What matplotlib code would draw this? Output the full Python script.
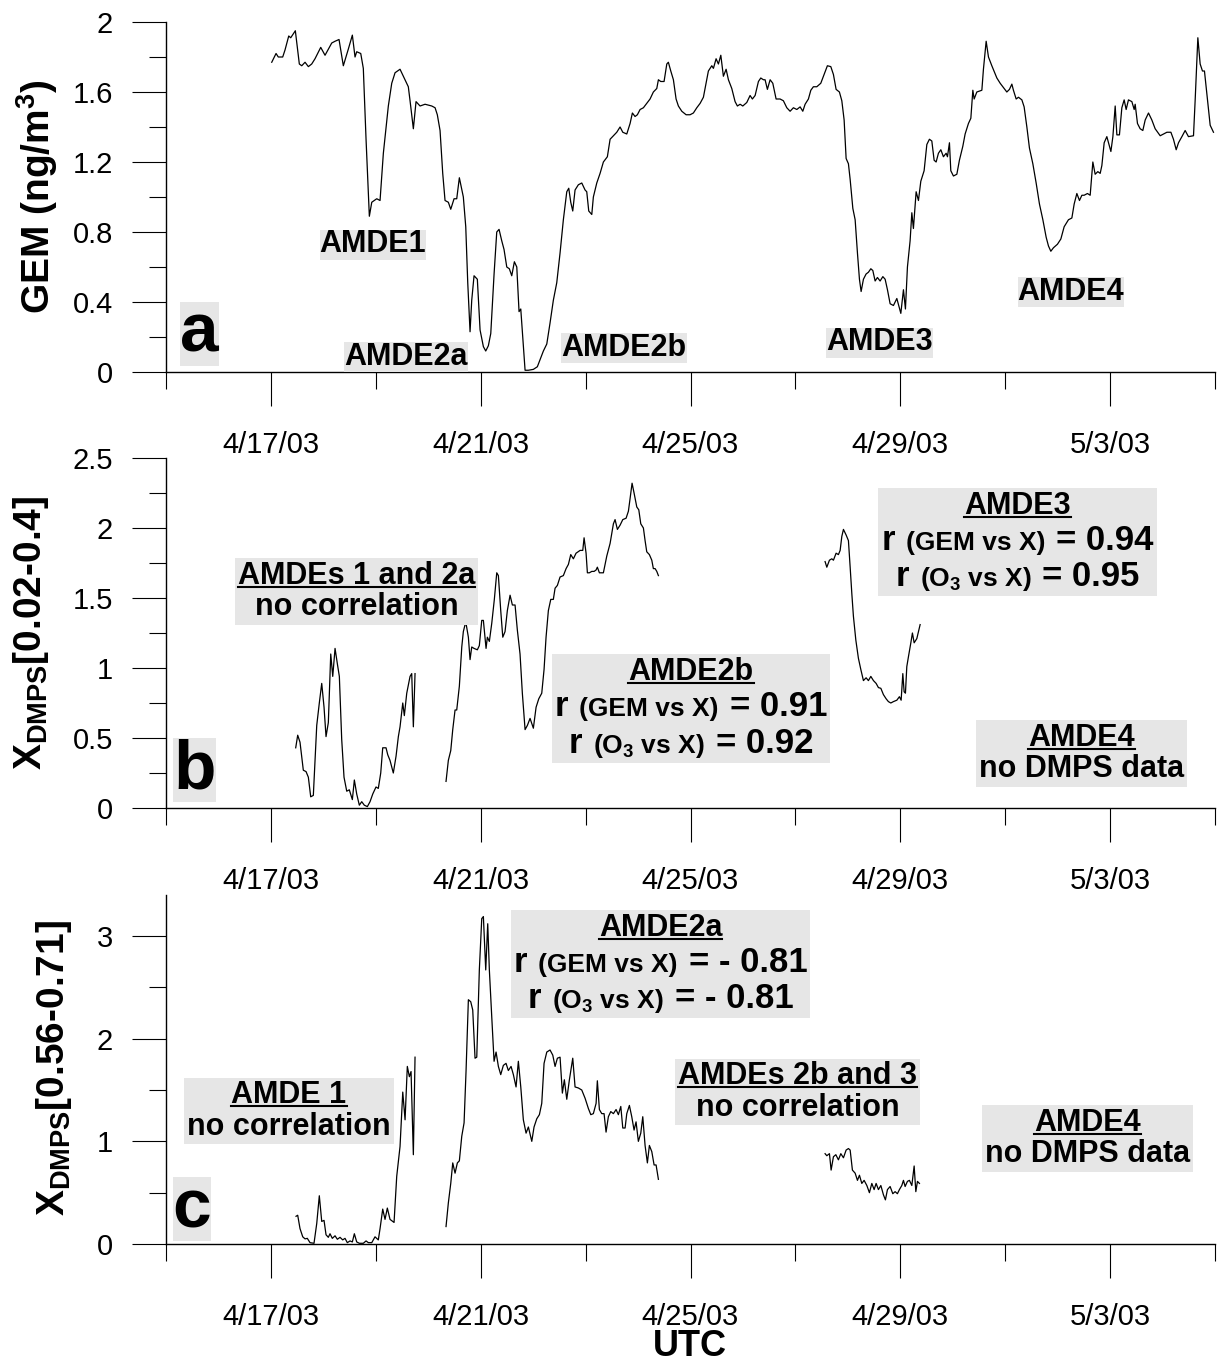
#!/usr/bin/env python3
"""
GEM and DMPS-derived X time series, April-May 2003, three stacked panels
with the AMDE (atmospheric mercury depletion event) annotations.
"""

import numpy as np
import matplotlib
matplotlib.use("Agg")
import matplotlib.pyplot as plt
import matplotlib.dates as mdates
from matplotlib.ticker import FixedLocator, MultipleLocator, FuncFormatter
from matplotlib.offsetbox import TextArea, HPacker, VPacker, AnnotationBbox
from matplotlib.font_manager import FontProperties
from matplotlib.lines import Line2D

plt.rcParams['font.family'] = ['Liberation Sans', 'DejaVu Sans']
plt.rcParams['mathtext.fontset'] = 'custom'
plt.rcParams['mathtext.rm'] = 'Liberation Sans'
plt.rcParams['mathtext.bf'] = 'Liberation Sans:bold'
plt.rcParams['mathtext.it'] = 'Liberation Sans:italic'


# ── Data (times are days after 2003-04-15 00:00 UTC) ─────────────────────────
START = "2003-04-15T00:00"

gem_days = [
    2.016, 2.098, 2.141, 2.225, 2.269, 2.340, 2.378, 2.466, 2.542, 2.588, 2.651, 2.714,
    2.778, 2.841, 2.950, 3.032, 3.160, 3.223, 3.299, 3.381, 3.476, 3.553, 3.604, 3.636,
    3.713, 3.762, 3.814, 3.877, 3.923, 4.018, 4.081, 4.144, 4.239, 4.304, 4.367, 4.462,
    4.525, 4.620, 4.653, 4.716, 4.767, 4.844, 4.939, 5.067, 5.130, 5.173, 5.225, 5.276,
    5.320, 5.383, 5.429, 5.492, 5.543, 5.593, 5.669, 5.715, 5.753, 5.797, 5.829, 5.873,
    5.936, 5.988, 6.051, 6.096, 6.146, 6.192, 6.255, 6.306, 6.350, 6.401, 6.445, 6.497,
    6.546, 6.592, 6.642, 6.688, 6.731, 6.764, 6.846, 6.909, 7.004, 7.080, 7.132, 7.195,
    7.260, 7.322, 7.385, 7.450, 7.513, 7.576, 7.641, 7.679, 7.717, 7.755, 7.799, 7.862,
    7.927, 7.990, 8.022, 8.060, 8.118, 8.148, 8.213, 8.276, 8.339, 8.415, 8.467, 8.530,
    8.594, 8.657, 8.709, 8.785, 8.848, 8.892, 8.943, 8.987, 9.039, 9.102, 9.166, 9.229,
    9.292, 9.357, 9.388, 9.433, 9.496, 9.548, 9.578, 9.624, 9.674, 9.725, 9.769, 9.834,
    9.916, 9.992, 10.055, 10.120, 10.183, 10.246, 10.297, 10.341, 10.406, 10.437, 10.488,
    10.532, 10.578, 10.627, 10.679, 10.723, 10.787, 10.850, 10.894, 10.946, 10.997,
    11.073, 11.136, 11.180, 11.232, 11.295, 11.340, 11.390, 11.422, 11.466, 11.518,
    11.569, 11.632, 11.708, 11.771, 11.836, 11.899, 11.962, 12.027, 12.090, 12.141,
    12.185, 12.248, 12.294, 12.343, 12.408, 12.484, 12.547, 12.610, 12.675, 12.725,
    12.776, 12.839, 12.885, 12.929, 12.967, 13.011, 13.044, 13.095, 13.139, 13.183,
    13.221, 13.253, 13.297, 13.348, 13.392, 13.438, 13.476, 13.520, 13.564, 13.615,
    13.667, 13.711, 13.755, 13.806, 13.869, 13.934, 14.010, 14.060, 14.098, 14.136,
    14.187, 14.220, 14.250, 14.302, 14.346, 14.391, 14.454, 14.506, 14.555, 14.601,
    14.645, 14.683, 14.727, 14.773, 14.822, 14.874, 14.899, 14.937, 14.963, 15.013,
    15.078, 15.127, 15.192, 15.236, 15.299, 15.345, 15.383, 15.408, 15.459, 15.555,
    15.585, 15.637, 15.681, 15.745, 15.841, 15.904, 15.980, 16.031, 16.081, 16.127,
    16.157, 16.209, 16.253, 16.318, 16.361, 16.413, 16.462, 16.527, 16.590, 16.653,
    16.718, 16.781, 16.825, 16.870, 16.920, 16.996, 17.061, 17.124, 17.206, 17.271,
    17.315, 17.366, 17.416, 17.462, 17.505, 17.568, 17.620, 17.671, 17.715, 17.766,
    17.811, 17.843, 17.887, 17.938, 18.015, 18.053, 18.097, 18.129, 18.178, 18.224,
    18.268, 18.306, 18.350, 18.415, 18.459, 18.478, 18.522, 18.573, 18.624, 18.669,
    18.732, 18.796, 18.859, 18.955, 19.018, 19.083, 19.159, 19.208, 19.260, 19.304,
    19.369, 19.431, 19.494, 19.590, 19.622, 19.673, 19.717, 19.761, 19.799, 19.857,
    19.908, 19.971,
]
gem_vals = [
    1.77, 1.82, 1.80, 1.80, 1.84, 1.92, 1.91, 1.95, 1.76, 1.75, 1.77, 1.745,
    1.76, 1.79, 1.855, 1.81, 1.88, 1.89, 1.90, 1.75, 1.845, 1.925, 1.80, 1.83,
    1.82, 1.735, 1.33, 0.89, 0.97, 0.99, 0.98, 1.25, 1.52, 1.65, 1.71, 1.73,
    1.69, 1.63, 1.55, 1.39, 1.545, 1.52, 1.53, 1.52, 1.51, 1.47, 1.38, 1.135,
    0.98, 0.97, 0.93, 0.99, 0.99, 1.11, 1.00, 0.83, 0.51, 0.23, 0.41, 0.55,
    0.53, 0.24, 0.145, 0.12, 0.15, 0.22, 0.56, 0.80, 0.815, 0.75, 0.70, 0.60,
    0.59, 0.55, 0.63, 0.60, 0.345, 0.36, 0.01, 0.01, 0.015, 0.03, 0.07, 0.12,
    0.16, 0.28, 0.41, 0.51, 0.68, 0.87, 1.03, 1.05, 0.97, 0.92, 1.04, 1.07,
    1.08, 1.04, 1.03, 0.92, 0.90, 1.00, 1.08, 1.135, 1.20, 1.23, 1.33, 1.35,
    1.37, 1.40, 1.37, 1.36, 1.42, 1.48, 1.46, 1.47, 1.50, 1.51, 1.535, 1.56,
    1.60, 1.62, 1.67, 1.66, 1.66, 1.76, 1.77, 1.72, 1.67, 1.56, 1.52, 1.49,
    1.47, 1.47, 1.48, 1.51, 1.535, 1.57, 1.65, 1.72, 1.75, 1.735, 1.79,
    1.76, 1.81, 1.69, 1.73, 1.67, 1.62, 1.545, 1.52, 1.53, 1.52,
    1.54, 1.58, 1.56, 1.58, 1.66, 1.68, 1.67, 1.67, 1.615, 1.67,
    1.65, 1.56, 1.56, 1.55, 1.51, 1.49, 1.51, 1.50, 1.515, 1.49,
    1.53, 1.56, 1.61, 1.63, 1.63, 1.65, 1.70, 1.75, 1.745, 1.70,
    1.615, 1.60, 1.55, 1.44, 1.22, 1.19, 1.10, 0.935, 0.87, 0.68,
    0.53, 0.46, 0.53, 0.56, 0.57, 0.59, 0.58, 0.52, 0.54, 0.52,
    0.545, 0.53, 0.47, 0.39, 0.38, 0.42, 0.335, 0.47, 0.36, 0.60,
    0.75, 0.91, 0.82, 1.03, 0.98, 1.09, 1.15, 1.30, 1.33, 1.32,
    1.21, 1.20, 1.25, 1.27, 1.23, 1.25, 1.23, 1.31, 1.15, 1.12,
    1.13, 1.21, 1.29, 1.36, 1.42, 1.45, 1.61, 1.56, 1.60, 1.61,
    1.73, 1.89, 1.80, 1.75, 1.68, 1.65, 1.62, 1.60, 1.615, 1.645,
    1.61, 1.56, 1.57, 1.555, 1.515, 1.40, 1.28, 1.19, 1.08, 0.96,
    0.87, 0.77, 0.72, 0.69, 0.71, 0.73, 0.76, 0.83, 0.87, 0.88,
    0.96, 1.02, 0.98, 1.01, 1.01, 1.02, 1.01, 1.20, 1.13, 1.145,
    1.135, 1.18, 1.31, 1.345, 1.26, 1.345, 1.52, 1.355, 1.355, 1.51,
    1.555, 1.50, 1.555, 1.545, 1.50, 1.53, 1.42, 1.39, 1.38, 1.44,
    1.48, 1.44, 1.39, 1.35, 1.36, 1.37, 1.37, 1.33, 1.27, 1.31,
    1.345, 1.38, 1.345, 1.35, 1.555, 1.91, 1.76, 1.72, 1.72, 1.555,
    1.41, 1.37,
]

# X_DMPS[0.02-0.4] (panel b), three measured stretches
fine_days = [
    [2.473, 2.511, 2.555, 2.618, 2.670, 2.714, 2.759, 2.809, 2.874, 2.923, 2.969, 3.013,
     3.051, 3.095, 3.141, 3.179, 3.223, 3.267, 3.305, 3.350, 3.394, 3.446, 3.495, 3.553,
     3.591, 3.636, 3.686, 3.732, 3.781, 3.839, 3.890, 3.942, 4.004, 4.048, 4.094, 4.132,
     4.195, 4.228, 4.271, 4.334, 4.386, 4.430, 4.462, 4.514, 4.544, 4.590, 4.653, 4.685,
     4.716, 4.748],
    [5.339, 5.383, 5.429, 5.467, 5.511, 5.543, 5.593, 5.639, 5.669, 5.715, 5.765, 5.797,
     5.829, 5.873, 5.936, 5.974, 6.020, 6.051, 6.102, 6.127, 6.165, 6.211, 6.260, 6.306,
     6.337, 6.382, 6.421, 6.464, 6.508, 6.560, 6.604, 6.655, 6.699, 6.750, 6.794, 6.846,
     6.890, 6.941, 7.004, 7.056, 7.107, 7.164, 7.208, 7.246, 7.290, 7.336, 7.385, 7.418,
     7.462, 7.513, 7.576, 7.628, 7.672, 7.717, 7.767, 7.818, 7.895, 7.946, 7.971, 8.009,
     8.034, 8.072, 8.118, 8.162, 8.200, 8.224, 8.263, 8.339, 8.404, 8.467, 8.530, 8.562,
     8.606, 8.657, 8.709, 8.772, 8.816, 8.848, 8.886, 8.924, 8.976, 9.014, 9.052, 9.102,
     9.134, 9.166, 9.216, 9.262, 9.292, 9.325, 9.357, 9.388],
    [12.566, 12.599, 12.649, 12.694, 12.725, 12.776, 12.820, 12.853, 12.885, 12.916,
     12.967, 13.011, 13.044, 13.076, 13.106, 13.152, 13.201, 13.247, 13.297, 13.348,
     13.392, 13.438, 13.488, 13.539, 13.583, 13.629, 13.678, 13.730, 13.773, 13.819,
     13.869, 13.934, 13.983, 14.016, 14.048, 14.073, 14.098, 14.124, 14.155, 14.201,
     14.231, 14.264, 14.315, 14.378],
]
fine_vals = [
    [0.43, 0.52, 0.47, 0.27, 0.26, 0.22, 0.08, 0.09, 0.59, 0.75, 0.89, 0.72,
     0.51, 0.61, 1.10, 0.94, 1.14, 1.03, 0.94, 0.49, 0.22, 0.12, 0.13, 0.06,
     0.20, 0.10, 0.02, 0.045, 0.02, 0.01, 0.045, 0.10, 0.15, 0.14, 0.25, 0.43,
     0.43, 0.38, 0.34, 0.25, 0.37, 0.51, 0.58, 0.75, 0.66, 0.82, 0.94, 0.96,
     0.58, 0.96],
    [0.19, 0.34, 0.41, 0.56, 0.70, 0.70, 0.87, 1.15, 1.26, 1.33, 1.22, 1.06,
     1.15, 1.14, 1.13, 1.16, 1.34, 1.34, 1.14, 1.22, 1.19, 1.32, 1.49, 1.68,
     1.66, 1.41, 1.22, 1.26, 1.41, 1.52, 1.45, 1.45, 1.27, 1.10, 0.82, 0.56,
     0.59, 0.64, 0.57, 0.72, 0.78, 0.82, 0.99, 1.22, 1.41, 1.49, 1.49, 1.57,
     1.59, 1.65, 1.66, 1.71, 1.74, 1.81, 1.78, 1.82, 1.84, 1.84, 1.93, 1.82,
     1.68, 1.68, 1.69, 1.69, 1.70, 1.72, 1.68, 1.68, 1.80, 1.89, 2.03, 2.06,
     1.99, 2.02, 2.06, 2.07, 2.12, 2.21, 2.32, 2.25, 2.15, 2.13, 2.03, 2.00,
     1.91, 1.83, 1.81, 1.77, 1.71, 1.71, 1.69, 1.66],
    [1.76, 1.72, 1.77, 1.78, 1.77, 1.82, 1.81, 1.84, 1.94, 1.99,
     1.95, 1.91, 1.72, 1.53, 1.37, 1.20, 1.07, 0.99, 0.91, 0.93,
     0.91, 0.94, 0.91, 0.89, 0.86, 0.855, 0.81, 0.78, 0.76, 0.75,
     0.76, 0.77, 0.795, 0.77, 0.96, 0.83, 0.82, 1.01, 1.08, 1.18,
     1.25, 1.18, 1.21, 1.31],
]

# X_DMPS[0.56-0.71] (panel c), same three stretches
coarse_days = [
    [2.479, 2.511, 2.555, 2.607, 2.651, 2.694, 2.746, 2.822, 2.874, 2.923, 2.969, 3.013,
     3.051, 3.095, 3.127, 3.171, 3.223, 3.267, 3.318, 3.369, 3.413, 3.457, 3.509, 3.553,
     3.591, 3.636, 3.686, 3.762, 3.814, 3.858, 3.923, 3.985, 4.048, 4.081, 4.132, 4.176,
     4.220, 4.271, 4.348, 4.399, 4.462, 4.514, 4.558, 4.601, 4.640, 4.672, 4.716, 4.748],
    [5.339, 5.383, 5.429, 5.467, 5.511, 5.555, 5.593, 5.639, 5.683, 5.721, 5.765, 5.810,
     5.848, 5.892, 5.925, 5.974, 6.020, 6.051, 6.096, 6.134, 6.165, 6.211, 6.255, 6.293,
     6.337, 6.382, 6.432, 6.483, 6.527, 6.579, 6.623, 6.674, 6.718, 6.764, 6.813, 6.865,
     6.909, 6.974, 7.017, 7.069, 7.119, 7.164, 7.208, 7.260, 7.322, 7.374, 7.418, 7.462,
     7.513, 7.557, 7.595, 7.641, 7.691, 7.755, 7.799, 7.862, 7.927, 7.990, 8.053, 8.099,
     8.148, 8.200, 8.224, 8.263, 8.308, 8.352, 8.390, 8.434, 8.480, 8.530, 8.581, 8.625,
     8.671, 8.709, 8.753, 8.785, 8.835, 8.880, 8.924, 8.962, 9.006, 9.052, 9.090, 9.134,
     9.178, 9.216, 9.262, 9.306, 9.344, 9.388],
    [12.566, 12.599, 12.649, 12.681, 12.725, 12.771, 12.820, 12.866, 12.916, 12.967,
     13.011, 13.044, 13.087, 13.139, 13.183, 13.221, 13.266, 13.310, 13.362, 13.411,
     13.457, 13.501, 13.539, 13.583, 13.629, 13.678, 13.716, 13.755, 13.806, 13.857,
     13.901, 13.945, 13.983, 14.029, 14.060, 14.092, 14.136, 14.174, 14.220, 14.264,
     14.296, 14.327, 14.365],
]
coarse_vals = [
    [0.27, 0.28, 0.15, 0.07, 0.05, 0.055, 0.013, 0.007, 0.20, 0.47, 0.22, 0.23,
     0.09, 0.065, 0.10, 0.055, 0.08, 0.046, 0.065, 0.04, 0.055, 0.013, 0.03, 0.02,
     0.10, 0.02, 0.007, 0.007, 0.03, 0.013, 0.013, 0.07, 0.04, 0.15, 0.34, 0.24,
     0.35, 0.24, 0.21, 0.66, 0.95, 1.48, 1.21, 1.73, 1.63, 1.68, 0.87, 1.82],
    [0.17, 0.40, 0.59, 0.79, 0.69, 0.79, 0.81, 1.05, 1.18, 1.69, 2.38, 2.36,
     2.28, 1.81, 1.82, 2.67, 3.17, 3.19, 2.67, 3.12, 2.67, 2.21, 1.78, 1.87,
     1.73, 1.65, 1.74, 1.76, 1.69, 1.73, 1.65, 1.53, 1.78, 1.53, 1.21, 1.08,
     1.14, 1.00, 1.14, 1.22, 1.26, 1.37, 1.76, 1.87, 1.89, 1.84, 1.73, 1.81,
     1.82, 1.47, 1.60, 1.41, 1.60, 1.81, 1.53, 1.52, 1.50, 1.42, 1.32, 1.26,
     1.27, 1.37, 1.59, 1.31, 1.27, 1.27, 1.09, 1.24, 1.29, 1.27, 1.31, 1.26,
     1.34, 1.13, 1.13, 1.27, 1.35, 1.24, 1.11, 1.19, 1.00, 1.08, 1.24, 0.96,
     0.79, 0.96, 0.90, 0.77, 0.77, 0.63],
    [0.88, 0.86, 0.88, 0.72, 0.85, 0.87, 0.82, 0.88, 0.84, 0.915,
     0.93, 0.915, 0.72, 0.69, 0.62, 0.67, 0.59, 0.62, 0.57, 0.50,
     0.59, 0.53, 0.59, 0.53, 0.57, 0.48, 0.43, 0.53, 0.56, 0.49,
     0.51, 0.49, 0.53, 0.57, 0.62, 0.56, 0.61, 0.62, 0.57, 0.76,
     0.51, 0.61, 0.59],
]

major_dates = ["2003-04-17", "2003-04-21", "2003-04-25", "2003-04-29", "2003-05-03"]
minor_dates = ["2003-04-15", "2003-04-19", "2003-04-23", "2003-04-27", "2003-05-01", "2003-05-05"]

GREY = '#e6e6e6'
W, H = 1220, 1367


# ── Helpers ──────────────────────────────────────────────────────────────────
t0 = np.datetime64(START)


def to_time(days):
    secs = np.round(np.asarray(days, float) * 86400).astype("int64")
    return t0 + secs.astype("timedelta64[s]")


def px_rect(top, bottom, left=166, right=1215):
    return [left / W, 1 - bottom / H, (right - left) / W, (bottom - top) / H]


def fig_xy(x, y):
    return x / W, 1 - y / H


def date_label(x, pos):
    d = mdates.num2date(x)
    return f"{d.month}/{d.day}/{d:%y}"


def style(ax, ymax, ystep):
    ax.set_xlim(np.datetime64(minor_dates[0]), np.datetime64(minor_dates[-1]))
    ax.set_ylim(0, ymax)
    ax.spines[['top', 'right']].set_visible(False)
    for s in ('left', 'bottom'):
        ax.spines[s].set_linewidth(1.0)
    ax.xaxis.set_major_locator(FixedLocator(mdates.date2num(np.array(major_dates, dtype='datetime64[D]'))))
    ax.xaxis.set_minor_locator(FixedLocator(mdates.date2num(np.array(minor_dates, dtype='datetime64[D]'))))
    ax.xaxis.set_major_formatter(FuncFormatter(date_label))
    ax.yaxis.set_major_locator(MultipleLocator(ystep))
    ax.yaxis.set_minor_locator(MultipleLocator(ystep / 2))
    ax.yaxis.set_major_formatter(FuncFormatter(lambda v, p: f"{v:g}"))
    ax.tick_params(which='major', length=24.5, width=0.8, labelsize=21, direction='out')
    ax.tick_params(which='minor', length=12, width=0.8, direction='out')
    ax.tick_params(axis='x', which='major', pad=18)
    ax.tick_params(axis='y', which='major', pad=13.5)


TITLE_SIZE = 22
BIG, SMALL = 25, 19
titles = []


def text_box(center, title, rows, sep=1.0):
    """Grey box: underlined title line, then plain lines or (inner, value) r-lines."""
    bold = dict(fontweight='bold', color='black')
    head = TextArea(title, textprops=dict(fontsize=TITLE_SIZE, **bold))
    titles.append(head)
    children = [head]
    for row in rows:
        if isinstance(row, str):
            children.append(TextArea(row, textprops=dict(fontsize=TITLE_SIZE, **bold)))
        else:
            inner, value = row
            children.append(HPacker(children=[
                TextArea('r', textprops=dict(fontsize=BIG, **bold)),
                TextArea(inner, textprops=dict(fontsize=SMALL, **bold)),
                TextArea('= ' + value, textprops=dict(fontsize=BIG, **bold)),
            ], align='baseline', pad=0, sep=8))
    pack = VPacker(children=children, align='center', pad=0, sep=sep)
    ab = AnnotationBbox(pack, fig_xy(*center), xycoords='figure fraction',
                        box_alignment=(0.5, 0.5), frameon=True, pad=0.2, fontsize=10,
                        bboxprops=dict(facecolor=GREY, edgecolor='none', linewidth=0))
    fig.add_artist(ab)


def tag(center, s, size=TITLE_SIZE):
    fig.text(*fig_xy(*center), s, fontsize=size, fontweight='bold', ha='center', va='center',
             zorder=5, bbox=dict(boxstyle='square,pad=0', facecolor=GREY, edgecolor='none'))


# ── Figure ───────────────────────────────────────────────────────────────────
fig = plt.figure(figsize=(W / 100, H / 100), dpi=100)
ax_a = fig.add_axes(px_rect(22, 372))
ax_b = fig.add_axes(px_rect(458, 808))
ax_c = fig.add_axes(px_rect(895, 1244))

ax_a.plot(to_time(gem_days), gem_vals, color='black', lw=0.9)
for d, v in zip(fine_days, fine_vals):
    ax_b.plot(to_time(d), v, color='black', lw=0.9)
for d, v in zip(coarse_days, coarse_vals):
    ax_c.plot(to_time(d), v, color='black', lw=0.9)

style(ax_a, 2.0, 0.4)
style(ax_b, 2.5, 0.5)
style(ax_c, 3.4, 1.0)

# axis titles
fig.text(*fig_xy(37, 197), 'GEM (ng/m$^{\\mathbf{3}}$)', rotation=90, ha='center', va='center',
         fontsize=28, fontweight='bold')
fig.text(*fig_xy(31, 633), 'X$_{\\mathbf{DMPS}}$[0.02-0.4]', rotation=90, ha='center', va='center',
         fontsize=28, fontweight='bold')
fig.text(*fig_xy(54, 1068), 'X$_{\\mathbf{DMPS}}$[0.56-0.71]', rotation=90, ha='center', va='center',
         fontsize=28, fontweight='bold')
fig.text(*fig_xy(690, 1347), 'UTC', ha='center', va='center', fontsize=26, fontweight='bold')

# panel letters
tag((199.5, 333.5), 'a', size=50)
tag((194.5, 770), 'b', size=50)
tag((192, 1209), 'c', size=50)

# panel a event tags
tag((373, 244.5), 'AMDE1')
tag((406, 357.5), 'AMDE2a')
tag((624, 347.5), 'AMDE2b')
tag((879.5, 342.5), 'AMDE3')
tag((1071, 291.5), 'AMDE4')

# panel b boxes
text_box((356.5, 591.5), 'AMDEs 1 and 2a', ['no correlation'])
text_box((691, 708.5), 'AMDE2b', [('(GEM vs X)', '0.91'), ('(O$_{\\mathbf{3}}$ vs X)', '0.92')], sep=2.5)
text_box((1017.5, 542), 'AMDE3', [('(GEM vs X)', '0.94'), ('(O$_{\\mathbf{3}}$ vs X)', '0.95')], sep=2.5)
text_box((1081.5, 753.5), 'AMDE4', ['no DMPS data'])

# panel c boxes
text_box((289, 1111), 'AMDE 1', ['no correlation'])
text_box((660.5, 964), 'AMDE2a', [('(GEM vs X)', '- 0.81'), ('(O$_{\\mathbf{3}}$ vs X)', '- 0.81')], sep=2.5)
text_box((797.5, 1092), 'AMDEs 2b and 3', ['no correlation'])
text_box((1087.5, 1138.5), 'AMDE4', ['no DMPS data'])

# underline the box titles once the layout is known (drawn above the grey boxes)
fig.canvas.draw()
renderer = fig.canvas.get_renderer()
title_font = FontProperties(family='Liberation Sans', weight='bold', size=TITLE_SIZE)
_, _, desc = renderer.get_text_width_height_descent('lp', title_font, ismath=False)
inv = fig.transFigure.inverted()
for head in titles:
    bb = head.get_window_extent(renderer)
    y = bb.y0 + desc - 3
    (x0, yf), (x1, _) = inv.transform([(bb.x0, y), (bb.x1, y)])
    fig.add_artist(Line2D([x0, x1], [yf, yf], transform=fig.transFigure,
                          color='black', lw=1.5, zorder=10))

fig.savefig('out.png', dpi=100)
